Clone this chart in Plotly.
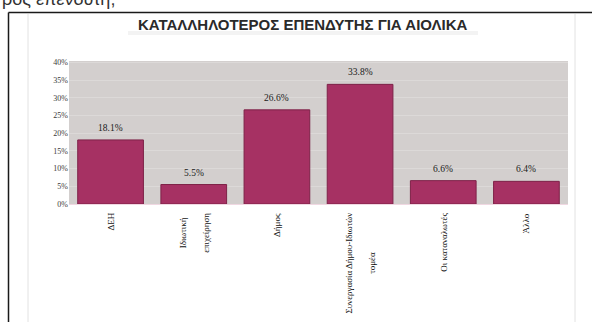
import plotly.graph_objects as go

# Survey results: most suitable investor for wind farms
categories = [
    "ΔΕΗ",
    "Ιδιωτική<br>\u00a0<br>επιχείρηση",
    "Δήμος",
    "Συνεργασία Δήμου-Ιδιωτών<br>\u00a0<br>τομέα",
    "Οι καταναλωτές",
    "Άλλο",
]
values = [18.1, 5.5, 26.6, 33.8, 6.6, 6.4]
value_labels = ["18.1%", "5.5%", "26.6%", "33.8%", "6.6%", "6.4%"]
y_ticks = [0, 5, 10, 15, 20, 25, 30, 35, 40]
y_tick_labels = ["0%", "5%", "10%", "15%", "20%", "25%", "30%", "35%", "40%"]
chart_title = "ΚΑΤΑΛΛΗΛΟΤΕΡΟΣ ΕΠΕΝΔΥΤΗΣ ΓΙΑ ΑΙΟΛΙΚΑ"
page_text = "ρος επενδυτή;"

W, H = 592, 322
L, R, T, B = 69, 24, 61, 118
PW, PH = W - L - R, H - T - B


def px(x):
    return (x - L) / PW


def py(y):
    return (H - B - y) / PH


x_idx = list(range(len(categories)))
serif = "Liberation Serif, Times New Roman, serif"
sans = "Liberation Sans, Arial, sans-serif"

fig = go.Figure()
fig.add_trace(go.Bar(
    x=x_idx,
    y=values,
    marker=dict(color="#a63163", line=dict(color="#7e2248", width=1)),
    width=0.79,
    hoverinfo="skip",
))

annotations = []
# value labels above the bars
for i, (v, t) in enumerate(zip(values, value_labels)):
    annotations.append(dict(
        x=i, xref="x", y=v, yref="y", text=t, showarrow=False,
        xanchor="center", yanchor="bottom", yshift=5,
        font=dict(family=serif, size=9.5, color="#1a1a1a"),
    ))
# category labels, rotated and centred under each bar
for i, c in enumerate(categories):
    annotations.append(dict(
        x=i, xref="x", y=py(211), yref="paper",
        text=c, textangle=-90, showarrow=False,
        xanchor="center", yanchor="top", align="center",
        font=dict(family=serif, size=9, color="#111111"),
    ))
annotations.append(dict(
    x=px(303), xref="paper", y=py(24), yref="paper",
    text="<b>" + chart_title + "</b>", showarrow=False,
    xanchor="center", yanchor="middle",
    font=dict(family=sans, size=15, color="#2a2a2a"),
))
annotations.append(dict(
    x=px(0), xref="paper", y=py(11), yref="paper",
    text=page_text, showarrow=False,
    xanchor="left", yanchor="bottom",
    font=dict(family=sans, size=18, color="#333333"),
))

shapes = [
    # faint haze beneath the title
    dict(type="rect", xref="paper", yref="paper", x0=px(128), x1=px(478),
         y0=py(35), y1=py(31), line=dict(width=0), fillcolor="#f3f3f3",
         layer="below"),
    # document frame
    dict(type="line", xref="paper", yref="paper", x0=px(8.5), x1=px(W + 2),
         y0=py(12.5), y1=py(12.5), line=dict(color="#1a1a1a", width=1.5)),
    dict(type="line", xref="paper", yref="paper", x0=px(8.5), x1=px(8.5),
         y0=py(12.5), y1=py(H + 2), line=dict(color="#1a1a1a", width=1.5)),
    # chart area border
    dict(type="line", xref="paper", yref="paper", x0=px(28), x1=px(28),
         y0=py(14), y1=py(H + 2), line=dict(color="#e2e2e2", width=1)),
    dict(type="line", xref="paper", yref="paper", x0=px(575), x1=px(575),
         y0=py(14), y1=py(H + 2), line=dict(color="#e2e2e2", width=1)),
]

fig.update_layout(
    width=W, height=H,
    margin=dict(l=L, r=R, t=T, b=B, autoexpand=False),
    paper_bgcolor="white",
    plot_bgcolor="#d3cfce",
    showlegend=False,
    bargap=0.21,
    annotations=annotations,
    shapes=shapes,
    xaxis=dict(
        range=[-0.5, len(categories) - 0.5],
        showticklabels=False, showgrid=False, zeroline=False,
        showline=True, linecolor="#f0d8e2", linewidth=1,
        fixedrange=True,
    ),
    yaxis=dict(
        range=[0, 40.4],
        tickvals=y_ticks, ticktext=y_tick_labels,
        tickfont=dict(family=serif, size=8, color="#3a3a3a"),
        showgrid=True, gridcolor="#dcd9d8", gridwidth=1,
        zeroline=False, showline=False,
        ticks="", ticklen=0, automargin=False,
        fixedrange=True,
    ),
)

fig.write_html("out.html")
